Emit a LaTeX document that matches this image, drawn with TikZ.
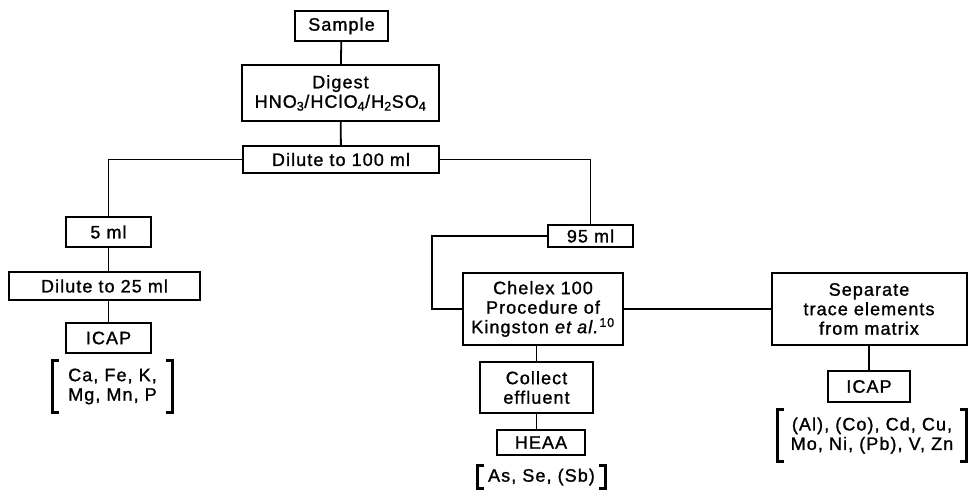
\documentclass[tikz,border=0pt]{standalone}
\usepackage{fontspec}
\setmainfont[LetterSpace=6,FakeBold=1.2]{Liberation Sans}
\usetikzlibrary{calc}
\begin{document}
\begin{tikzpicture}[x=1pt,y=-1pt,
  every node/.style={font=\fontsize{18}{19.5}\selectfont, align=center, inner sep=0pt},
  box/.style={draw, line width=2pt},
  link/.style={line width=1.8pt},
  brk/.style={line width=3pt}]
\useasboundingbox (0,0) rectangle (968,502);
% boxes
\node[box, minimum width=93pt, minimum height=30pt] (sample) at (341.5,26) {Sample};
\node[box, minimum width=197pt, minimum height=56pt] (digest) at (340.5,93) {Digest\\HNO\textsubscript{3}/HClO\textsubscript{4}/H\textsubscript{2}SO\textsubscript{4}};
\node[box, minimum width=196pt, minimum height=27pt] (dil100) at (341,159.5) {Dilute to 100 ml};
\node[box, minimum width=85pt, minimum height=30pt] (ml5) at (108.5,232) {5 ml};
\node[box, minimum width=191pt, minimum height=28pt] (dil25) at (104.5,286) {Dilute to 25 ml};
\node[box, minimum width=85pt, minimum height=30pt] (icapa) at (108.5,338) {ICAP};
\node[box, minimum width=85pt, minimum height=22pt] (ml95) at (590.5,236) {95 ml};
\node[box, minimum width=160pt, minimum height=72pt] (chelex) at (543,309) {Chelex 100\\Procedure of\\Kingston \textit{et al.}\textsuperscript{10}};
\node[box, minimum width=113pt, minimum height=51pt] (collect) at (536.5,387.5) {Collect\\effluent};
\node[box, minimum width=88pt, minimum height=25pt] (heaa) at (541,442.5) {HEAA};
\node[box, minimum width=195pt, minimum height=72pt] (separate) at (869,309) {Separate\\trace elements\\from matrix};
\node[box, minimum width=82pt, minimum height=31pt] (icapb) at (869,386.5) {ICAP};
% element lists
\node[minimum width=119pt, minimum height=51pt] (ela) at (112.5,386.5) {Ca, Fe, K,\\Mg, Mn, P};
\node[minimum width=127pt, minimum height=22pt] (elb) at (541.5,477) {As, Se, (Sb)};
\node[minimum width=188pt, minimum height=51pt] (elc) at (872,435.5) {(Al), (Co), Cd, Cu,\\Mo, Ni, (Pb), V, Zn};
\foreach \n in {ela,elb,elc}{
  \draw[brk] ($(\n.north west)+(6,0)$) -- (\n.north west) -- (\n.south west) -- ++(6,0);
  \draw[brk] ($(\n.north east)+(-6,0)$) -- (\n.north east) -- (\n.south east) -- ++(-6,0);
}
% connectors
\coordinate (bend) at (432,236);
\draw[link] (sample) -- (digest);
\draw[link] (digest) -- (dil100);
\draw[link] (dil100.west) -| (ml5.north);
\draw[link] (ml5.south) -- (ml5.south |- dil25.north);
\draw[link] (dil25.south -| icapa.north) -- (icapa.north);
\draw[link] (dil100.east) -| (ml95.north);
\draw[link] (ml95.west) -- (bend) |- (chelex.west);
\draw[link] (chelex.east) -- (separate.west);
\draw[link] (chelex.south -| collect.north) -- (collect.north);
\draw[link] (collect.south) -- (collect.south |- heaa.north);
\draw[link] (separate) -- (icapb);
\end{tikzpicture}
\end{document}
